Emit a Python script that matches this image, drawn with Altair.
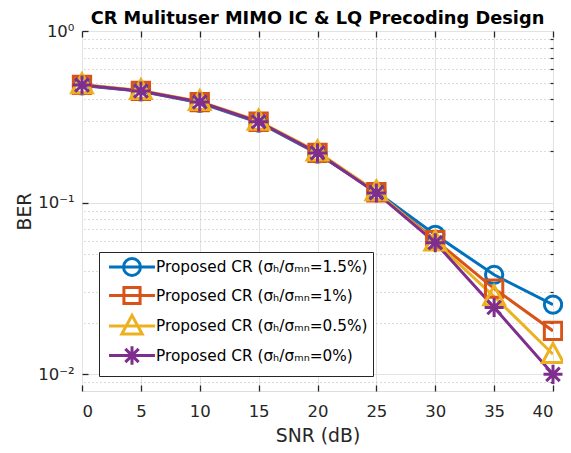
import altair as alt
import pandas as pd

# ---------------- data ----------------
snr = [0, 5, 10, 15, 20, 25, 30, 35, 40]
series_names = [
    "Proposed CR (σₕ/σₘₙ=1.5%)",
    "Proposed CR (σₕ/σₘₙ=1%)",
    "Proposed CR (σₕ/σₘₙ=0.5%)",
    "Proposed CR (σₕ/σₘₙ=0%)",
]
ber_1p5 = [0.482, 0.445, 0.382, 0.293, 0.193, 0.116, 0.065, 0.038, 0.0255]
ber_1 = [0.485, 0.448, 0.385, 0.296, 0.195, 0.115, 0.0605, 0.0316, 0.0179]
ber_0p5 = [0.488, 0.451, 0.389, 0.299, 0.198, 0.116, 0.0592, 0.0284, 0.0131]
ber_0 = [0.485, 0.447, 0.386, 0.296, 0.195, 0.114, 0.0585, 0.0245, 0.0100]
series_values = [ber_1p5, ber_1, ber_0p5, ber_0]

colors = ["#0072BD", "#D95319", "#EDB120", "#7E2F8E"]

x_ticks = [0, 5, 10, 15, 20, 25, 30, 35, 40]
y_major_ticks = [1, 0.1, 0.01]
y_major_labels = ["10⁰", "10⁻¹", "10⁻²"]
y_minor_ticks = [0.9, 0.8, 0.7, 0.6, 0.5, 0.4, 0.3, 0.2,
                 0.09, 0.08, 0.07, 0.06, 0.05, 0.04, 0.03, 0.02, 0.009]

rows = []
for name, vals in zip(series_names, series_values):
    for s, v in zip(snr, vals):
        rows.append({"snr": s, "ber": v, "series": name})
df = pd.DataFrame(rows)

# marker shapes (unit box) for plot and legend (legend adds the line segment)
TRI = "M0,-1.25L1.2,0.95H-1.2Z"
STAR = "M0,-1.1V1.1M-1.1,0H1.1M-0.78,-0.78L0.78,0.78M-0.78,0.78L0.78,-0.78"
plot_shapes = ["circle", "square", TRI, STAR]
SEG = "M-2.7,0H2.7"
legend_shapes = [
    SEG + "M1,0A1,1,0,1,1,-1,0A1,1,0,1,1,1,0",
    SEG + "M-0.95,-0.95H0.95V0.95H-0.95Z",
    SEG + TRI,
    SEG + STAR,
]

label_expr = " : ".join(
    f"datum.value == {v} ? '{l}'" for v, l in zip(y_major_ticks[:-1], y_major_labels[:-1])
) + f" : '{y_major_labels[-1]}'"

FONT = "DejaVu Sans"
INK = "#262626"

x_scale = alt.Scale(domain=[0, 40], nice=False, zero=False)
y_scale = alt.Scale(type="log", domain=[0.008, 1], nice=False)
color_scale = alt.Scale(domain=series_names, range=colors)

base = alt.Chart(df)

lines = base.mark_line(strokeWidth=3, clip=True).encode(
    x=alt.X("snr:Q", scale=x_scale, axis=alt.Axis(
        orient="bottom", values=x_ticks, title="SNR (dB)", grid=True,
        gridColor="#e2e2e2", gridWidth=1, domain=False, ticks=True,
        tickSize=6, tickColor=INK, tickWidth=1.3, offset=-6,
        labelPadding=12, labelFontSize=16.5, labelFont=FONT, labelColor=INK,
        titleFont=FONT, titleFontSize=18.8, titleFontWeight="normal",
        titleColor=INK, titlePadding=7)),
    y=alt.Y("ber:Q", scale=y_scale, axis=alt.Axis(
        orient="left", values=y_major_ticks, labelExpr=label_expr,
        title="BER", grid=True, gridColor="#e2e2e2", gridWidth=1,
        domain=False, tickSize=6, tickColor=INK, tickWidth=1.3, offset=-6,
        labelPadding=8, labelFontSize=16.5, labelFont=FONT, labelColor=INK,
        titleFont=FONT, titleFontSize=18.8, titleFontWeight="normal",
        titleColor=INK, titlePadding=3)),
    color=alt.Color("series:N", scale=color_scale, legend=None),
    order=alt.Order("snr:Q"),
)

points = base.mark_point(filled=False, strokeWidth=3, size=300, opacity=1).encode(
    x=alt.X("snr:Q", scale=x_scale, axis=alt.Axis(
        orient="top", values=x_ticks, labels=False, title=None, grid=False,
        domain=False, tickSize=6, tickColor=INK, tickWidth=1.3, offset=-6)),
    y=alt.Y("ber:Q", scale=y_scale, axis=alt.Axis(
        orient="right", values=y_minor_ticks, labels=False, title=None,
        grid=True, gridDash=[1, 3], gridColor="#b8b8b8", gridWidth=1,
        domain=False, tickSize=3, tickColor=INK, tickWidth=1.2, offset=-3)),
    color=alt.Color("series:N", scale=color_scale, legend=None),
    shape=alt.Shape("series:N", scale=alt.Scale(domain=series_names, range=plot_shapes), legend=None),
)

leg = alt.Legend(
    orient="none", legendX=17, legendY=221, title=None, direction="vertical",
    padding=5, strokeColor=INK, fillColor="white", cornerRadius=0,
    symbolSize=289, symbolStrokeWidth=3, symbolOffset=18, labelOffset=14,
    labelFontSize=15.3, labelFont=FONT, labelColor="black", labelLimit=0,
    rowPadding=-1.5, symbolOpacity=1,
)

legend_layer = base.transform_filter("false").mark_point(
    filled=False, strokeWidth=3, size=289, opacity=1
).encode(
    x=alt.X("snr:Q", scale=x_scale, axis=None),
    y=alt.Y("ber:Q", scale=y_scale, axis=None),
    color=alt.Color("series:N", scale=color_scale, legend=leg),
    shape=alt.Shape("series:N", scale=alt.Scale(domain=series_names, range=legend_shapes), legend=leg),
)

chart = alt.layer(lines, points, legend_layer).resolve_scale(
    color="independent", shape="independent"
).properties(
    width=471, height=360,
    title=alt.TitleParams(
        "CR Mulituser MIMO IC & LQ Precoding Design", font=FONT, fontSize=17.8,
        fontWeight="bold", color="black", anchor="middle", offset=-5),
    autosize=alt.AutoSizeParams(type="none"),
    padding={"left": 74, "top": 23, "right": 10, "bottom": 54},
).configure_view(stroke=INK, strokeWidth=1.5).configure(background="white")

chart.save("out.html", embed_options={"renderer": "svg", "actions": False})
